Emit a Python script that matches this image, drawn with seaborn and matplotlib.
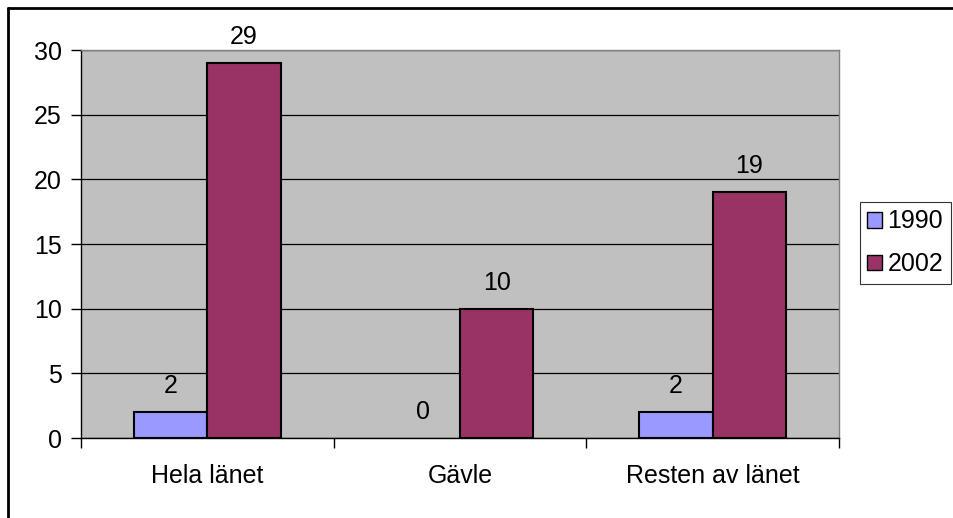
import matplotlib
matplotlib.use("Agg")
import matplotlib.pyplot as plt
import pandas as pd
import seaborn as sns
from matplotlib.lines import Line2D

# values
categories = ["Hela länet", "Gävle", "Resten av länet"]
values_1990 = [2, 0, 2]
values_2002 = [29, 10, 19]
years = ["1990", "2002"]
colors = {"1990": "#9999FF", "2002": "#993366"}

df = pd.DataFrame({
    "område": categories * 2,
    "år": [years[0]] * 3 + [years[1]] * 3,
    "antal": values_1990 + values_2002,
})

sns.set_theme(style="white")
plt.rcParams["font.family"] = ["Liberation Sans", "DejaVu Sans"]
plt.rcParams["text.color"] = "black"
plt.rcParams["xtick.color"] = "black"
plt.rcParams["ytick.color"] = "black"
FS = 18

fig = plt.figure(figsize=(9.54, 5.18), dpi=100)
ax = fig.add_axes([81 / 954, 1 - 438 / 518, 758 / 954, 388 / 518])
ax.set_facecolor("#C0C0C0")

sns.barplot(data=df, x="område", y="antal", hue="år", order=categories,
            hue_order=years, palette=colors, saturation=1, width=0.58, gap=0,
            edgecolor="black", linewidth=1.5, ax=ax, zorder=3)

# empty bars get no outline
for p in ax.patches:
    if p.get_height() == 0:
        p.set_linewidth(0)

for cont in ax.containers:
    ax.bar_label(cont, fmt="%d", padding=10, fontsize=FS, color="black")

ax.set_xlim(-0.5, 2.5)
ax.set_ylim(0, 30)
ax.set_yticks(range(0, 31, 5))
ax.yaxis.grid(True, color="black", linewidth=0.9)
ax.set_axisbelow(True)
ax.set_xlabel("")
ax.set_ylabel("")

# ticks sit on category boundaries, labels in the middle
ax.set_xticks([-0.5, 0.5, 1.5, 2.5], minor=False)
ax.set_xticklabels([])
ax.set_xticks([0, 1, 2], minor=True)
ax.set_xticklabels(categories, minor=True, fontsize=FS)
ax.tick_params(axis="x", which="minor", length=0, pad=19)
ax.tick_params(axis="x", which="major", length=7, width=1, color="black", direction="out", bottom=True)
ax.tick_params(axis="y", length=7, width=1, color="black", direction="out", left=True, labelsize=FS, pad=7)

ax.spines["left"].set_color("black")
ax.spines["bottom"].set_color("black")
ax.spines["top"].set_color("#808080")
ax.spines["right"].set_color("#808080")
for s in ax.spines.values():
    s.set_linewidth(1)

leg = ax.legend(loc="upper left", bbox_to_anchor=(860 / 954, 1 - 202 / 518),
                bbox_transform=fig.transFigure, frameon=True, fancybox=False,
                edgecolor="black", fontsize=FS, handlelength=0.6, handleheight=0.6,
                handletextpad=0.2, borderpad=0.3, borderaxespad=0,
                labelspacing=0.75)
leg.get_frame().set_linewidth(0.8)
for h in leg.legend_handles:
    h.set_edgecolor("black")
    h.set_linewidth(1)

# outer chart border (top and left visible)
fig.add_artist(Line2D([8 / 954, 1], [1 - 8 / 518, 1 - 8 / 518], color="black", linewidth=2, transform=fig.transFigure))
fig.add_artist(Line2D([8 / 954, 8 / 954], [0, 1 - 8 / 518], color="black", linewidth=2, transform=fig.transFigure))

fig.savefig("out.png", dpi=100, facecolor="white")
